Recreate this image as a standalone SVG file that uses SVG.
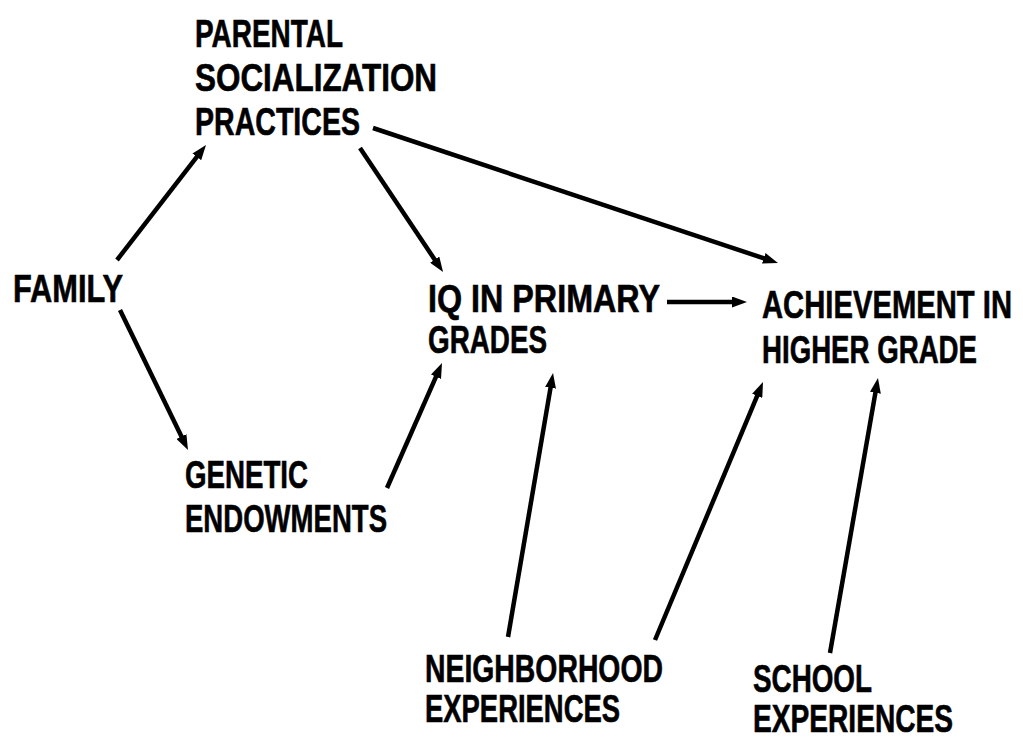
<svg xmlns="http://www.w3.org/2000/svg" width="1023" height="741" viewBox="0 0 1023 741">
<defs>
<marker id="ah" markerUnits="userSpaceOnUse" markerWidth="15" markerHeight="11" refX="7" refY="5.5" orient="auto">
<path d="M0,0 L15,5.5 L0,11 z" fill="#000"/>
</marker>
<style>
text{font-family:"Liberation Sans","DejaVu Sans",sans-serif;font-weight:bold;font-size:38px;fill:#000;stroke:#000;stroke-width:0.6}
.c line{stroke:#000;stroke-width:4.5;marker-end:url(#ah)}
</style>
</defs>
<rect width="1023" height="741" fill="#fff"/>
<g class="c" id="connectors">
<line x1="117" y1="260" x2="201.1" y2="151.3"/>
<line x1="120" y1="310" x2="184.5" y2="442.8"/>
<line x1="360" y1="148" x2="438.6" y2="265.4"/>
<line x1="373" y1="128" x2="770.4" y2="260.5"/>
<line x1="387" y1="488" x2="438.8" y2="370.3"/>
<line x1="667" y1="302" x2="739" y2="302"/>
<line x1="508" y1="637" x2="551.7" y2="380.9"/>
<line x1="655" y1="640" x2="759.9" y2="389.4"/>
<line x1="830" y1="653" x2="876.6" y2="385.9"/>
</g>
<g id="parental">
<text x="195" y="47" textLength="148" lengthAdjust="spacingAndGlyphs">PARENTAL</text>
<text x="195" y="91" textLength="242" lengthAdjust="spacingAndGlyphs">SOCIALIZATION</text>
<text x="195" y="135" textLength="165" lengthAdjust="spacingAndGlyphs">PRACTICES</text>
</g>
<g id="family">
<text x="13" y="302" textLength="110" lengthAdjust="spacingAndGlyphs">FAMILY</text>
</g>
<g id="genetic">
<text x="185" y="488" textLength="123" lengthAdjust="spacingAndGlyphs">GENETIC</text>
<text x="185" y="532" textLength="202" lengthAdjust="spacingAndGlyphs">ENDOWMENTS</text>
</g>
<g id="iq">
<text x="428" y="312" textLength="232" lengthAdjust="spacingAndGlyphs">IQ IN PRIMARY</text>
<text x="428" y="353" textLength="119" lengthAdjust="spacingAndGlyphs">GRADES</text>
</g>
<g id="achievement">
<text x="762" y="318" textLength="250" lengthAdjust="spacingAndGlyphs">ACHIEVEMENT IN</text>
<text x="762" y="363" textLength="215" lengthAdjust="spacingAndGlyphs">HIGHER GRADE</text>
</g>
<g id="neighborhood">
<text x="425" y="682" textLength="238" lengthAdjust="spacingAndGlyphs">NEIGHBORHOOD</text>
<text x="425" y="722" textLength="195" lengthAdjust="spacingAndGlyphs">EXPERIENCES</text>
</g>
<g id="school">
<text x="753" y="692" textLength="119" lengthAdjust="spacingAndGlyphs">SCHOOL</text>
<text x="753" y="732" textLength="200" lengthAdjust="spacingAndGlyphs">EXPERIENCES</text>
</g>
</svg>
